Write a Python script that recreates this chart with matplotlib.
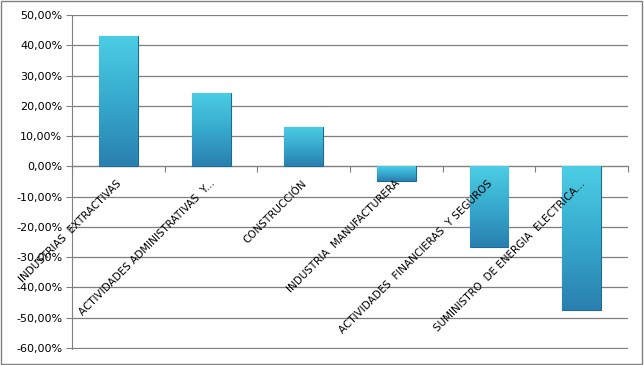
import numpy as np
import matplotlib
matplotlib.use("Agg")
import matplotlib.pyplot as plt
from matplotlib.ticker import FuncFormatter, FixedLocator
from matplotlib.colors import LinearSegmentedColormap

# Data
categories = [
    "INDUSTRIAS  EXTRACTIVAS",
    "ACTIVIDADES ADMINISTRATIVAS  Y...",
    "CONSTRUCCIÓN",
    "INDUSTRIA  MANUFACTURERA",
    "ACTIVIDADES  FINANCIERAS  Y SEGUROS",
    "SUMINISTRO  DE ENERGIA  ELECTRICA...",
]
values = [0.430, 0.242, 0.131, -0.049, -0.267, -0.474]
y_ticks = [-0.6, -0.5, -0.4, -0.3, -0.2, -0.1, 0.0, 0.1, 0.2, 0.3, 0.4, 0.5]


def pct(v, pos):
    v = round(v * 100, 2) + 0.0  # drop the sign of -0.0
    return f"{v:.2f}%".replace(".", ",")


fig = plt.figure(figsize=(6.44, 3.65), dpi=100)
ax = fig.add_axes([0.112, 0.045, 0.863, 0.914])

x = np.arange(len(categories))
bars = ax.bar(x, values, width=0.42, color="#38aed3", edgecolor="#1d6b8c",
              linewidth=0.8, zorder=3)

# gradient fill inside each bar (light cyan top, darker blue bottom)
cmap = LinearSegmentedColormap.from_list("bar", ["#2a80b0", "#36aacd", "#4ccde4"])
grad = np.linspace(0, 1, 64).reshape(-1, 1)
for b in bars:
    x0, y0 = b.get_x(), b.get_y()
    w, h = b.get_width(), b.get_height()
    ylo, yhi = min(y0, y0 + h), max(y0, y0 + h)
    im = ax.imshow(grad, cmap=cmap, aspect="auto", origin="lower",
                   extent=[x0, x0 + w, ylo, yhi], zorder=3)
    im.set_clip_path(b)

ax.set_xlim(-0.5, len(categories) - 0.5)
ax.set_ylim(-0.602, 0.5)
ax.yaxis.set_major_locator(FixedLocator(y_ticks))
ax.yaxis.set_major_formatter(FuncFormatter(pct))
ax.grid(axis="y", color="#7f7f7f", linewidth=0.9, zorder=0)

# category axis sits on the zero line
ax.spines["bottom"].set_position(("data", 0))
ax.spines["bottom"].set_color("#7f7f7f")
ax.spines["left"].set_color("#7f7f7f")
ax.spines["top"].set_visible(False)
ax.spines["right"].set_visible(False)

ax.set_xticks(np.arange(len(categories) + 1) - 0.5)
ax.set_xticklabels([])
ax.tick_params(axis="x", length=4, color="#7f7f7f", direction="out")
ax.tick_params(axis="y", length=4, color="#7f7f7f", labelsize=8, pad=3)

for i, label in enumerate(categories):
    ax.text(i - 0.02, -0.04, label, rotation=45, rotation_mode="anchor",
            ha="right", va="top", fontsize=7.5, zorder=4)

# outer border of the chart area
fig.patches.append(plt.Rectangle((0.002, 0.003), 0.995, 0.994, transform=fig.transFigure,
                                 fill=False, edgecolor="#808080", linewidth=1))

fig.savefig("out.png", dpi=100)
